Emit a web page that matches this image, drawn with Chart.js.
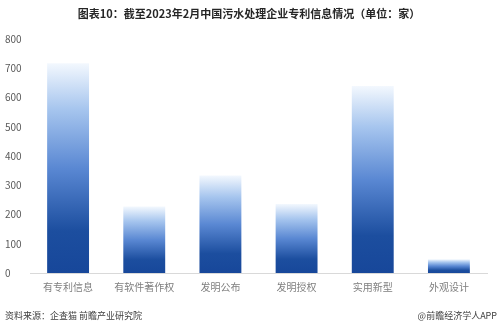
<!DOCTYPE html>
<html>
<head>
<meta charset="utf-8">
<script src="https://cdn.jsdelivr.net/npm/chart.js@4/dist/chart.umd.min.js"></script>
<style>
  html, body { margin: 0; padding: 0; background: #fff; }
  #wrap { width: 499px; height: 325px; position: relative; }
</style>
</head>
<body>
<div id="wrap"><canvas id="myChart"></canvas></div>
<script>
let titleText = "图表10：截至2023年2月中国污水处理企业专利信息情况（单位：家）";
let sourceText = "资料来源：企查猫 前瞻产业研究院";
let brandText = "@前瞻经济学人APP";

let xValues = ["有专利信息", "有软件著作权", "发明公布", "发明授权", "实用新型", "外观设计"];
let yValues = [717, 227, 333, 236, 639, 47];
let yTicks = [0, 100, 200, 300, 400, 500, 600, 700, 800];

const cjk = '"Noto Sans CJK SC", "Noto Sans", sans-serif';

// each bar fades from dark blue at its base to near white at its top
function barGradient(ctx) {
    let chart = ctx.chart;
    let y = chart.scales.y;
    if (!y || !chart.chartArea || ctx.dataIndex === undefined) return "#1a4a9a";
    let v = ctx.dataset.data[ctx.dataIndex];
    let top = y.getPixelForValue(v);
    let bottom = y.getPixelForValue(0);
    if (!isFinite(top) || !isFinite(bottom) || top === bottom) return "#1a4a9a";
    let g = chart.ctx.createLinearGradient(0, bottom, 0, top);
    g.addColorStop(0, "#17479a");
    g.addColorStop(0.2, "#1c4e9f");
    g.addColorStop(0.5, "#5a88d3");
    g.addColorStop(0.78, "#a6c5ee");
    g.addColorStop(1, "#f3f8fe");
    return g;
}

const textPlugin = {
    id: "texts",
    afterDraw(chart) {
        let c = chart.ctx;
        c.save();
        c.fillStyle = "#262626";
        c.font = "bold 11px " + cjk;
        c.textAlign = "center";
        c.textBaseline = "middle";
        c.fillText(titleText, 249, 14);
        c.font = "9px " + cjk;
        c.fillStyle = "#404040";
        c.textAlign = "left";
        c.fillText(sourceText, 5, 316);
        c.textAlign = "right";
        c.fillText(brandText, 497, 316);
        c.restore();
    }
};

new Chart("myChart", {
    type: "bar",
    data: {
        labels: xValues,
        datasets: [{
            data: yValues,
            backgroundColor: barGradient,
            categoryPercentage: 1,
            barPercentage: 0.55
        }]
    },
    plugins: [textPlugin],
    options: {
        responsive: true,
        maintainAspectRatio: false,
        animation: false,
        layout: {padding: {left: 5, right: 12, top: 39, bottom: 22}},
        plugins: {
            legend: {display: false},
            title: {display: false},
            tooltip: {enabled: false}
        },
        scales: {
            x: {
                grid: {display: false, drawTicks: false},
                border: {display: true, color: "#d9d9d9"},
                ticks: {color: "#7f7f7f", font: {family: cjk, size: 10}, padding: 8, maxRotation: 0},
                afterFit(s) { s.height = 30; }
            },
            y: {
                min: 0,
                max: 800,
                afterBuildTicks(s) { s.ticks = yTicks.map(v => ({value: v})); },
                grid: {display: false},
                border: {display: false},
                ticks: {color: "#595959", font: {family: cjk, size: 10}, crossAlign: "far", padding: 4},
                afterFit(s) { s.width = 25; }
            }
        }
    }
});
</script>
</body>
</html>
